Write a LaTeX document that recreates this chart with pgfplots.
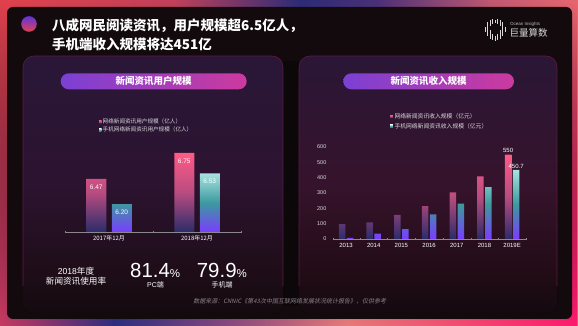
\documentclass[border=0pt]{standalone}
\usepackage{fontspec}
\setmainfont{Noto Sans CJK SC}
\newfontfamily\lat{Liberation Sans}
\newfontfamily\cjkslant{Noto Sans CJK SC}[FakeSlant=0.2]
\usepackage{pgfplots}
\pgfplotsset{compat=1.18}
\usetikzlibrary{fadings}

\definecolor{cardc}{HTML}{130A0E}
\definecolor{gapc}{HTML}{0C0709}
\definecolor{ta}{HTML}{E2434D}
\definecolor{tb}{HTML}{C4425A}
\definecolor{tc}{HTML}{2C2C78}
\definecolor{td}{HTML}{4A3078}
\definecolor{te}{HTML}{C25A72}
\definecolor{tf}{HTML}{E8686E}
\definecolor{ba}{HTML}{C83A62}
\definecolor{bb}{HTML}{2E2E80}
\definecolor{bc}{HTML}{8A4A80}
\definecolor{bd}{HTML}{E87A7A}
\definecolor{be}{HTML}{F54A72}
\definecolor{bf}{HTML}{FF1A6E}
\definecolor{pTop}{HTML}{2A1738}
\definecolor{pMid}{HTML}{2C1330}
\definecolor{pLow}{HTML}{1E0D18}
\definecolor{qTop}{HTML}{2A1636}
\definecolor{qMid}{HTML}{36132C}
\definecolor{qLow}{HTML}{220C16}
\definecolor{pillL}{HTML}{7B40D4}
\definecolor{pillR}{HTML}{CC3A9E}
\definecolor{pborder}{HTML}{5E1A45}
\definecolor{pinkTop}{HTML}{FF5A87}
\definecolor{pinkMid}{HTML}{B84C80}
\definecolor{pinkBot}{HTML}{2A2C6A}
\definecolor{tealTop}{HTML}{A8E2E0}
\definecolor{tealMid}{HTML}{3C9A9E}
\definecolor{tealBot}{HTML}{7A3CFF}
\definecolor{axc}{HTML}{8C8890}
\definecolor{srcc}{HTML}{8C8088}

\pgfdeclarehorizontalshading{frametop}{100bp}{color(0bp)=(ta); color(25bp)=(ta); color(40bp)=(tb); color(51bp)=(tc); color(57.5bp)=(td); color(67.5bp)=(te); color(75bp)=(tf); color(100bp)=(tf)}
\pgfdeclarehorizontalshading{framebot}{100bp}{color(0bp)=(ba); color(25bp)=(ba); color(35bp)=(bb); color(45bp)=(bc); color(55bp)=(bd); color(65bp)=(be); color(75bp)=(bf); color(100bp)=(bf)}
\pgfdeclareverticalshading{panelL}{100bp}{color(0bp)=(cardc); color(25bp)=(cardc); color(33bp)=(pLow); color(50bp)=(pMid); color(75bp)=(pTop); color(100bp)=(pTop)}
\pgfdeclareverticalshading{panelR}{100bp}{color(0bp)=(cardc); color(25bp)=(cardc); color(33bp)=(qLow); color(50bp)=(qMid); color(75bp)=(qTop); color(100bp)=(qTop)}

\begin{document}
\begin{tikzpicture}[x=1pt,y=1pt]
\path[use as bounding box] (0,0) rectangle (578,326);
% frame
\fill[shading=frametop] (0,0) rectangle (578,326);
\fill[shading=framebot, path fading=north] (0,0) rectangle (578,326);
% card
\fill[cardc, rounded corners=6pt] (7,7) rectangle (572,319);
\fill[gapc] (283,20) rectangle (299,265);
% panels
\fill[shading=panelL, rounded corners=11pt] (23,12) rectangle (283,270);
\fill[shading=panelR, rounded corners=11pt] (299,12) rectangle (557,270);
\draw[pborder, line width=0.6pt, rounded corners=11pt] (23,40) -- (23,270) -- (283,270) -- (283,40);
\draw[pborder, line width=0.6pt, rounded corners=11pt] (299,40) -- (299,270) -- (557,270) -- (557,40);
% header circle and title
\shade[top color=pillL!80!blue, bottom color=ta] (29,302) circle (7.8);
\node[anchor=west, text=white, font=\fontsize{13.5}{14}\selectfont\bfseries, inner sep=0pt] at (52,300) {八成网民阅读资讯，用户规模超6.5亿人，};
\node[anchor=west, text=white, font=\fontsize{13.5}{14}\selectfont\bfseries, inner sep=0pt] at (52,282) {手机端收入规模将达451亿};
% logo
\foreach \xx/\ya/\yb in {485/294/299, 487.5/290/304, 490/287/296, 490/300/306, 492.5/286/292, 492.5/302/307, 495/285/290, 495/303/306, 497.5/286/292, 497.5/302/307, 500/287/296, 500/300/306, 502.5/290/304, 505/294/299}
  \draw[white!85!black, line width=1pt] (\xx,\ya) -- (\xx,\yb);
\node[anchor=west, inner sep=0pt, text=white!75!black, font=\lat\fontsize{4.5}{5}\selectfont] at (510,301.7) {Ocean Insights};
\node[anchor=west, inner sep=0pt, text=white!85!black, font=\fontsize{9.5}{10}\selectfont] at (509.5,292.7) {巨量算数};
% pills
\shade[left color=pillL, right color=pillR, rounded corners=8pt] (60.7,236.7) rectangle (246.7,252.7);
\node[text=white, font=\fontsize{9.5}{10}\selectfont\bfseries] at (153.7,244.7) {新闻资讯用户规模};
\shade[left color=pillL, right color=pillR, rounded corners=8pt] (343.3,236.7) rectangle (514,252.7);
\node[text=white, font=\fontsize{9.5}{10}\selectfont\bfseries] at (428.7,244.7) {新闻资讯收入规模};

% left chart
\begin{axis}[
  at={(65pt,94pt)}, anchor=south west, scale only axis,
  width=176pt, height=93pt,
  y coord trafo/.code={\pgfmathparse{#1-5.9}},
  y coord inv trafo/.code={\pgfmathparse{#1+5.9}},
  xmin=-0.5, xmax=1.5, ymin=5.9, ymax=6.9,
  ybar=5.5pt, bar width=20pt,
  hide y axis, axis x line*=bottom,
  x axis line style={draw=axc, line width=0.6pt},
  xtick={0,1}, xticklabels={2017年12月,2018年12月},
  major x tick style={draw=none},
  minor xtick={-0.5,0.5,1.5}, minor tick length=2pt,
  minor x tick style={draw=axc},
  tick align=center,
  xticklabel style={font=\fontsize{6}{6}\selectfont, text=white, inner sep=1.5pt},
  point meta=explicit symbolic,
  nodes near coords,
  every node near coord/.append style={anchor=north, yshift=-2pt, text=white, font=\lat\fontsize{6.5}{7}\selectfont},
  legend style={at={(0.175,1.255)}, anchor=north west, draw=none, fill=none,
    font=\fontsize{5.6}{6}\selectfont, text=white!85!black,
    nodes={inner sep=1.1pt}, row sep=0pt},
  legend cell align=left,
  legend image code/.code={\fill[#1] (0pt,-1.3pt) rectangle (2.6pt,1.3pt);},
]
\addplot[draw=none, top color=pinkTop, bottom color=pinkBot, middle color=pinkMid] coordinates {(0,6.47) [6.47] (1,6.75) [6.75]};
\addplot[draw=none, top color=tealTop, bottom color=tealBot, middle color=tealMid] coordinates {(0,6.20) [6.20] (1,6.53) [6.53]};
\legend{网络新闻资讯用户规模（亿人）, 手机网络新闻资讯用户规模（亿人）}
\end{axis}

% right chart
\begin{axis}[
  at={(333pt,87pt)}, anchor=south west, scale only axis,
  width=193pt, height=92pt,
  xmin=-0.47, xmax=6.5, ymin=0, ymax=600,
  ytick={0,100,...,600},
  ybar=1.5pt, bar width=6.5pt,
  axis x line*=bottom, axis y line*=left,
  y axis line style={draw=none}, ytick style={draw=none},
  x axis line style={draw=axc, line width=0.6pt},
  xtick={0,...,6}, xticklabels={2013,2014,2015,2016,2017,2018,2019E},
  major x tick style={draw=none},
  minor xtick={-0.47,0.5,1.5,2.5,3.5,4.5,5.5,6.5}, minor tick length=2pt,
  minor x tick style={draw=axc},
  tick align=center,
  /pgf/number format/assume math mode=true,
  xticklabel style={font=\lat\fontsize{6}{6}\selectfont, text=white, inner sep=1.5pt},
  yticklabel style={font=\lat\fontsize{5.5}{6}\selectfont, text=white!85!black, xshift=-1pt},
  point meta=explicit symbolic,
  nodes near coords,
  every node near coord/.append style={text=white, font=\lat\fontsize{6}{6}\selectfont, inner sep=1.5pt},
  clip=false,
  legend style={at={(0.28,1.41)}, anchor=north west, draw=none, fill=none,
    font=\fontsize{5.8}{6}\selectfont, text=white!85!black,
    nodes={inner sep=1.7pt}, row sep=0pt},
  legend cell align=left,
  legend image code/.code={\fill[#1] (0pt,-1.3pt) rectangle (2.6pt,1.3pt);},
]
\addplot[draw=none, top color=pinkTop, bottom color=pinkBot, middle color=pinkMid] coordinates {(0,97) [] (1,109) [] (2,158) [] (3,215) [] (4,304) [] (5,409) [] (6,550) [550]};
\addplot[draw=none, top color=tealTop, bottom color=tealBot, middle color=tealMid] coordinates {(0,8) [] (1,35) [] (2,65) [] (3,161) [] (4,230) [] (5,339) [] (6,450.7) [450.7]};
\legend{网络新闻资讯收入规模（亿元）, 手机网络新闻资讯收入规模（亿元）}
\end{axis}

% bottom stats
\node[text=white, font=\fontsize{8.6}{9}\selectfont] at (76,55) {\lat 2018\normalfont 年度};
\node[text=white, font=\fontsize{8.6}{9}\selectfont] at (76,45) {新闻资讯使用率};
\node[anchor=base west, inner sep=0pt, text=white] at (130,48.7) {\lat\fontsize{20.4}{21}\selectfont 81.4\fontsize{11.5}{12}\selectfont\%};
\node[anchor=base west, inner sep=0pt, text=white] at (196.7,48.7) {\lat\fontsize{20.4}{21}\selectfont 79.9\fontsize{11.5}{12}\selectfont\%};
\node[text=white, font=\fontsize{7}{7}\selectfont] at (155.5,41) {\lat PC\normalfont 端};
\node[text=white, font=\fontsize{7}{7}\selectfont] at (222,41) {手机端};
\node[text=srcc, font=\cjkslant\fontsize{6}{6}\selectfont] at (289.7,24.3) {数据来源：CNNIC《第43次中国互联网络发展状况统计报告》，仅供参考};
\end{tikzpicture}
\end{document}
